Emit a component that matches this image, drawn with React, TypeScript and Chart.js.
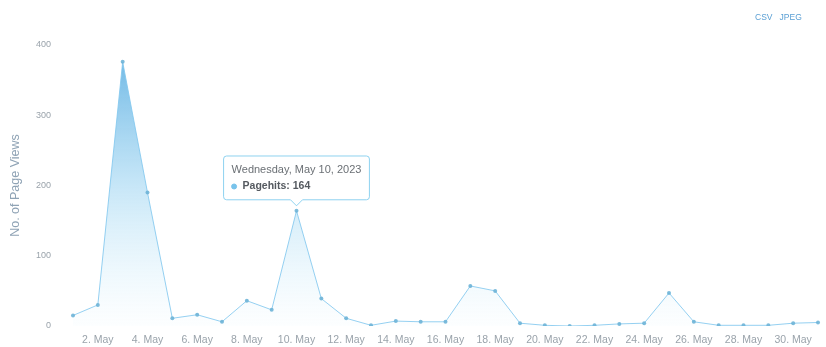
import React, { useEffect, useRef } from "react";
import { Chart, registerables } from "chart.js";

Chart.register(...registerables);

const dates: string[] = [
  "2023-05-01", "2023-05-02", "2023-05-03", "2023-05-04", "2023-05-05", "2023-05-06",
  "2023-05-07", "2023-05-08", "2023-05-09", "2023-05-10", "2023-05-11", "2023-05-12",
  "2023-05-13", "2023-05-14", "2023-05-15", "2023-05-16", "2023-05-17", "2023-05-18",
  "2023-05-19", "2023-05-20", "2023-05-21", "2023-05-22", "2023-05-23", "2023-05-24",
  "2023-05-25", "2023-05-26", "2023-05-27", "2023-05-28", "2023-05-29", "2023-05-30",
  "2023-05-31",
];

const pagehits: number[] = [
  15, 30, 376, 190, 11, 16, 6, 36, 23, 164, 39, 11, 1, 7, 6, 6, 57, 50, 4, 1, 0, 1, 3, 4,
  47, 6, 1, 1, 1, 4, 5,
];

const yTicks: number[] = [0, 100, 200, 300, 400];
const seriesName = "Pagehits";
const yTitle = "No. of Page Views";
const tooltipIndex = 9;

const monthNames = ["Jan", "Feb", "Mar", "Apr", "May", "Jun", "Jul", "Aug", "Sep", "Oct", "Nov", "Dec"];

function parseDate(s: string): Date {
  const [y, m, d] = s.split("-").map(Number);
  return new Date(y, m - 1, d);
}

function shortLabel(s: string): string {
  const d = parseDate(s);
  return `${d.getDate()}. ${monthNames[d.getMonth()]}`;
}

function longLabel(s: string): string {
  return parseDate(s).toLocaleDateString("en-US", {
    weekday: "long",
    month: "long",
    day: "numeric",
    year: "numeric",
  });
}

export default function App() {
  const ref = useRef<HTMLCanvasElement | null>(null);

  useEffect(() => {
    if (!ref.current) return;
    const font = "'Liberation Sans', Arial, sans-serif";
    const chart = new Chart(ref.current, {
      type: "line",
      data: {
        labels: dates,
        datasets: [
          {
            label: seriesName,
            data: pagehits,
            borderColor: "rgba(130,200,238,0.85)",
            borderWidth: 1,
            tension: 0,
            fill: "origin",
            backgroundColor: (ctx: any) => {
              const area = ctx.chart.chartArea;
              if (!area) return "rgba(100,180,230,0.4)";
              const g = ctx.chart.ctx.createLinearGradient(0, area.top, 0, area.bottom);
              g.addColorStop(0, "rgba(95,175,225,0.95)");
              g.addColorStop(0.5, "rgba(130,200,238,0.45)");
              g.addColorStop(1, "rgba(200,235,250,0.05)");
              return g;
            },
            pointRadius: 2,
            pointHoverRadius: 2.5,
            pointBackgroundColor: "rgba(110,180,215,0.9)",
            pointBorderWidth: 0,
            pointHoverBorderWidth: 0,
          },
        ],
      },
      options: {
        responsive: true,
        maintainAspectRatio: false,
        devicePixelRatio: 1,
        animation: false,
        events: [],
        layout: { padding: { left: 0, right: 7, top: 45, bottom: 0 } },
        scales: {
          x: {
            offset: false,
            grid: { display: false, drawTicks: false },
            border: { display: false },
            ticks: {
              autoSkip: false,
              maxRotation: 0,
              minRotation: 0,
              padding: 8,
              color: "#9aa3ab",
              font: { family: font, size: 10.5 },
              callback: (_v: any, i: number) => (i % 2 === 1 ? shortLabel(dates[i]) : ""),
            },
            afterFit: (s: any) => {
              s.height = 21;
            },
          },
          y: {
            min: yTicks[0],
            max: yTicks[yTicks.length - 1],
            afterBuildTicks: (s: any) => {
              s.ticks = yTicks.map((v) => ({ value: v }));
            },
            grid: { display: false, drawTicks: true, tickLength: 18 },
            border: { display: false },
            ticks: {
              padding: 4,
              color: "#9aa3ab",
              font: { family: font, size: 9 },
            },
            title: {
              display: true,
              text: yTitle,
              color: "#8fa3b5",
              font: { family: font, size: 12.5 },
              padding: { top: 8, bottom: 0 },
            },
            afterFit: (s: any) => {
              s.width = 73;
            },
          },
        },
        plugins: {
          legend: { display: false },
          tooltip: {
            enabled: true,
            yAlign: "bottom",
            xAlign: "center",
            backgroundColor: "rgba(255,255,255,0.96)",
            borderColor: "rgba(130,205,238,0.9)",
            borderWidth: 1,
            cornerRadius: 3,
            caretSize: 6,
            caretPadding: 5,
            padding: { left: 8, right: 8, top: 7, bottom: 7 },
            titleColor: "#6b7075",
            titleFont: { family: font, size: 11, weight: "normal" },
            titleMarginBottom: 4,
            bodyColor: "#555a60",
            bodyFont: { family: font, size: 10.5, weight: "bold" },
            usePointStyle: true,
            boxWidth: 5,
            boxHeight: 5,
            boxPadding: 4,
            callbacks: {
              title: (items: any[]) => (items.length ? longLabel(dates[items[0].dataIndex]) : ""),
              label: (item: any) => `${seriesName}: ${item.parsed.y}`,
              labelPointStyle: () => ({ pointStyle: "circle", rotation: 0 }),
              labelColor: () => ({
                borderColor: "rgba(120,195,235,1)",
                backgroundColor: "rgba(120,195,235,1)",
                borderWidth: 0,
              }),
            },
          },
        },
      },
    });

    const meta = chart.getDatasetMeta(0);
    const pt = meta.data[tooltipIndex];
    chart.tooltip?.setActiveElements([{ datasetIndex: 0, index: tooltipIndex }], {
      x: pt.x,
      y: pt.y,
    });
    chart.update();

    return () => chart.destroy();
  }, []);

  return (
    <div style={{ position: "absolute", left: 0, top: 0, width: 826, height: 347, background: "#fff" }}>
      <div style={{ position: "relative", width: 826, height: 347 }}>
        <canvas ref={ref} />
      </div>
      <div
        style={{
          position: "absolute",
          top: 12,
          left: 755,
          fontFamily: "'Liberation Sans', Arial, sans-serif",
          fontSize: 8.5,
          color: "#5a9fd4",
          whiteSpace: "nowrap",
        }}
      >
        CSV&nbsp;&nbsp;&nbsp;JPEG
      </div>
    </div>
  );
}
